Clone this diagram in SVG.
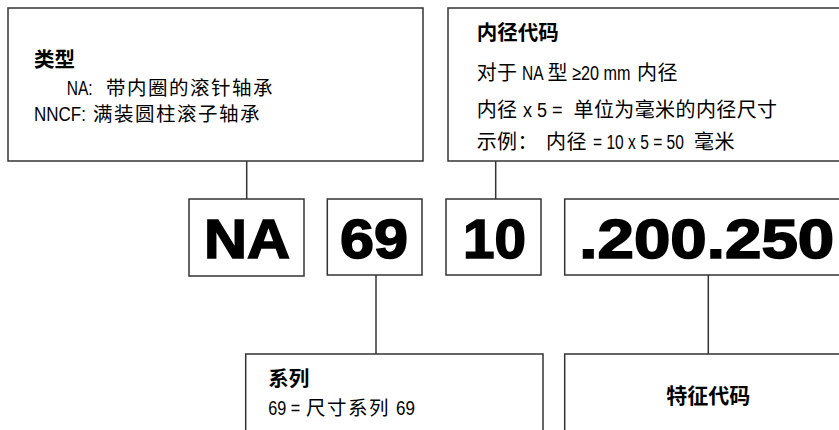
<svg xmlns="http://www.w3.org/2000/svg" width="839" height="430" viewBox="0 0 839 430">
<style>
.box{fill:#fff;stroke:#333;stroke-width:1.5}
.conn line{stroke:#333;stroke-width:1.5}
.t{font-family:"Noto Sans CJK SC",sans-serif;font-size:20px;letter-spacing:0.4px;fill:#000}
.t21{font-family:"Noto Sans CJK SC",sans-serif;font-size:19.5px;letter-spacing:1.5px;fill:#000}
.l{font-family:"Liberation Sans",Arial,sans-serif;font-size:20.5px;fill:#000}
.b{font-family:"Noto Sans CJK SC",sans-serif;font-weight:bold;font-size:20.5px;fill:#000}
.big{font-family:"Liberation Sans",Arial,sans-serif;font-weight:bold;font-size:56px;fill:#000;stroke:#000;stroke-width:1.6}
</style>
<rect width="839" height="430" fill="#fff"/>
<g class="conn" id="connectors">
<line x1="246.7" y1="161" x2="246.7" y2="199"/>
<line x1="495.7" y1="161" x2="495.7" y2="199"/>
<line x1="376" y1="275" x2="376" y2="354"/>
<line x1="708.3" y1="275" x2="708.3" y2="354"/>
</g>
<g id="type-box">
<rect class="box" x="8" y="8" width="415" height="153"/>
<text class="b" x="34" y="67">类型</text>
<text class="l" transform="translate(66.7,94.5) scale(0.76,1)">NA:</text>
<text class="t21" x="106" y="94.5">带内圈的滚针轴承</text>
<text class="l" transform="translate(34,121) scale(0.83,1)">NNCF:</text>
<text class="t21" x="93" y="121">满装圆柱滚子轴承</text>
</g>
<g id="bore-box">
<rect class="box" x="448" y="8" width="420" height="153"/>
<text class="b" x="476.7" y="40">内径代码</text>
<text class="t" x="476.7" y="80">对于</text>
<text class="l" transform="translate(522,80) scale(0.76,1)">NA</text>
<text class="t" x="547.5" y="80">型</text>
<text class="l" transform="translate(572,80) scale(0.79,1)">≥20 mm</text>
<text class="t" x="637" y="80">内径</text>
<text class="t" x="476.7" y="117">内径</text>
<text class="l" transform="translate(523,117) scale(0.88,1)">x 5 =</text>
<text class="t" x="573.5" y="117">单位为毫米的内径尺寸</text>
<text class="t" x="476.7" y="149">示例：</text>
<text class="t" x="546" y="149">内径</text>
<text class="l" transform="translate(593,149) scale(0.76,1)">= 10 x 5 = 50</text>
<text class="t" x="694" y="149">毫米</text>
</g>
<g id="na">
<rect class="box" x="189" y="199" width="115" height="77"/>
<text class="big" x="204" y="258" textLength="86" lengthAdjust="spacingAndGlyphs">NA</text>
</g>
<g id="s69">
<rect class="box" x="327.3" y="199" width="94.7" height="76"/>
<text class="big" x="340" y="258" textLength="68" lengthAdjust="spacingAndGlyphs">69</text>
</g>
<g id="s10">
<rect class="box" x="446" y="199" width="95" height="76"/>
<text class="big" x="463" y="258" textLength="63" lengthAdjust="spacingAndGlyphs">10</text>
</g>
<g id="suffix">
<rect class="box" x="564.7" y="199" width="300" height="76"/>
<text class="big" x="579.3" y="258" textLength="255" lengthAdjust="spacingAndGlyphs">.200.250</text>
</g>
<g id="series-box">
<rect class="box" x="245.7" y="354" width="297.3" height="100"/>
<text class="b" x="268.3" y="386">系列</text>
<text class="l" transform="translate(268.3,415) scale(0.79,1)">69 =</text>
<text class="t21" x="306" y="415">尺寸系列</text>
<text class="l" transform="translate(396,415) scale(0.83,1)">69</text>
</g>
<g id="feature-box">
<rect class="box" x="564.7" y="354" width="287" height="100"/>
<text class="b" x="708.3" y="403" text-anchor="middle" style="font-size:21px">特征代码</text>
</g>
</svg>
